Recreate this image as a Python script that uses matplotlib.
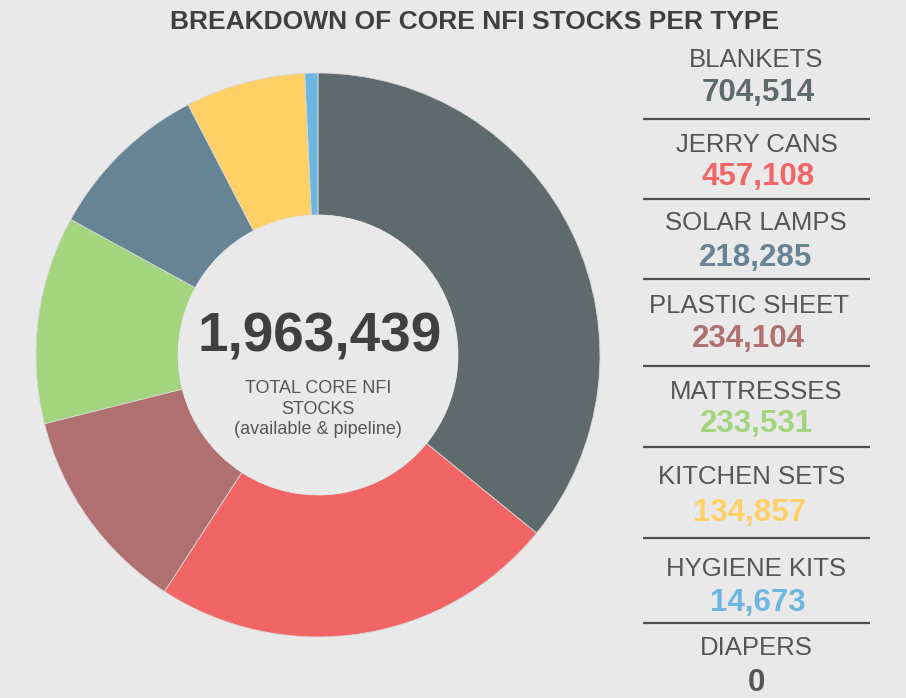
import matplotlib
matplotlib.use("Agg")
import matplotlib.pyplot as plt
from matplotlib.patches import Circle

plt.rcParams["font.family"] = ["Liberation Sans", "DejaVu Sans"]

# data (pie slices sum to the total shown in the centre)
pie_types = ["BLANKETS", "JERRY CANS", "PLASTIC SHEET", "MATTRESSES",
             "SOLAR LAMPS", "KITCHEN SETS", "HYGIENE KITS"]
pie_values = [704514, 457108, 234104, 233531, 184652, 134857, 14673]
pie_colors = ["#5e6a6b", "#f26565", "#b07070", "#a3d47e",
              "#668494", "#ffd066", "#6db6e0"]

list_types = ["BLANKETS", "JERRY CANS", "SOLAR LAMPS", "PLASTIC SHEET",
              "MATTRESSES", "KITCHEN SETS", "HYGIENE KITS", "DIAPERS"]
list_values = [704514, 457108, 218285, 234104, 233531, 134857, 14673, 0]
list_colors = ["#5e6a6b", "#f26565", "#668494", "#b07070",
               "#a3d47e", "#ffd066", "#6db6e0", "#555555"]

total_stock = 1963439

BG = "#e9e9e9"
TXT = "#555555"

W, H = 906, 698
fig = plt.figure(figsize=(W / 100, H / 100), dpi=100, facecolor=BG)
ax = fig.add_axes([0, 0, 1, 1])
ax.set_xlim(0, W)
ax.set_ylim(0, H)
ax.set_aspect("equal")
ax.axis("off")
ax.set_facecolor(BG)

cx, cy, r = 318, H - 355, 282
ax.pie(pie_values, colors=pie_colors, startangle=90, counterclock=False,
       center=(cx, cy), radius=r,
       wedgeprops=dict(width=r - 140, edgecolor="#d8d8d8", linewidth=0.6))
ax.add_patch(Circle((cx, cy), 140, facecolor=BG, edgecolor="none", zorder=5))
ax.set_xlim(0, W)
ax.set_ylim(0, H)

ax.text(cx + 2, H - 337, f"{total_stock:,}", ha="center", va="center",
        fontsize=39.5, fontweight="bold", color="#404040", zorder=6)
ax.text(cx, H - 409, "TOTAL CORE NFI\nSTOCKS\n(available & pipeline)",
        ha="center", va="center", fontsize=13, color=TXT,
        linespacing=1.25, zorder=6)

ax.text(475, H - 22, "BREAKDOWN OF CORE NFI STOCKS PER TYPE", ha="center",
        va="center", fontsize=19, fontweight="bold", color="#404040")

# right side list
label_x = [756, 757, 756, 749, 756, 752, 756, 756]
value_x = [758, 758, 756, 748, 756, 750, 758, 756]
label_y = [60, 145, 223, 306, 392, 477, 569, 648]
value_y = [93, 177, 258, 339, 424, 513, 603, 683]
line_y = [119, 199, 279, 366, 447, 538, 623]
for i, name in enumerate(list_types):
    ax.text(label_x[i], H - label_y[i], name, ha="center", va="center",
            fontsize=18.5, color=TXT)
    ax.text(value_x[i], H - value_y[i], f"{list_values[i]:,}", ha="center",
            va="center", fontsize=22.5, fontweight="bold", color=list_colors[i])
for y in line_y:
    ax.plot([643, 870], [H - y, H - y], color="#505050", lw=1.6,
            solid_capstyle="butt")

fig.savefig("out.png", dpi=100, facecolor=BG)
